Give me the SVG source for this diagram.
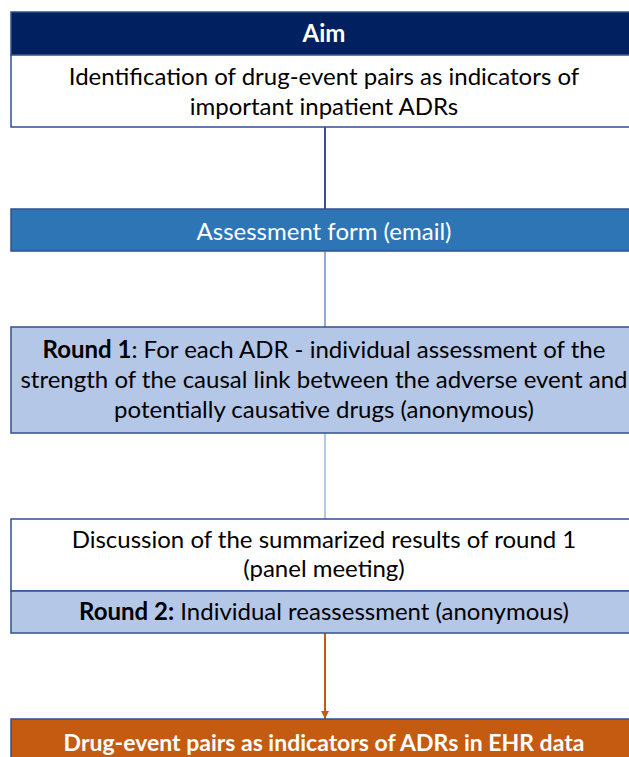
<svg xmlns="http://www.w3.org/2000/svg" width="629" height="757" viewBox="0 0 629 757">
<style>
  .t { font-family: Lato, "Liberation Sans", sans-serif; font-size: 24px; fill: #000; text-anchor: middle; }
  .w { fill: #fff; }
  .b { font-weight: bold; }
  .box { stroke: #2F528F; stroke-width: 1.5; }
</style>
<defs>
  <marker id="arrowO" viewBox="0 0 10 10" refX="10" refY="5" markerWidth="8" markerHeight="8" markerUnits="userSpaceOnUse" orient="auto">
    <path d="M0,0 L10,5 L0,10 z" fill="#C55A11"/>
  </marker>
</defs>
<g id="connectors">
  <line x1="325" y1="127" x2="325" y2="209" stroke="#3A4F8C" stroke-width="2"/>
  <line x1="325" y1="251" x2="325" y2="327" stroke="#8FAADC" stroke-width="2"/>
  <line x1="325" y1="433" x2="325" y2="519" stroke="#B4C7E7" stroke-width="2"/>
  <line x1="325" y1="633" x2="325" y2="719" stroke="#C55A11" stroke-width="2" marker-end="url(#arrowO)"/>
</g>
<g id="aim">
  <rect class="box" x="11" y="12" width="630" height="43" fill="#002060"/>
  <text class="t w b" x="324" y="42">Aim</text>
  <rect class="box" x="11" y="55" width="630" height="72" fill="#FFFFFF"/>
  <text class="t" x="324" y="85">Identification of drug-event pairs as indicators of</text>
  <text class="t" x="324" y="115">important inpatient ADRs</text>
</g>
<g id="assessment">
  <rect class="box" x="11" y="209" width="630" height="42" fill="#2E75B6"/>
  <text class="t w" x="324" y="240">Assessment form (email)</text>
</g>
<g id="round1">
  <rect class="box" x="11" y="327" width="630" height="106" fill="#B4C7E7"/>
  <text class="t" x="324" y="358"><tspan class="b">Round 1</tspan>: For each ADR - individual assessment of the</text>
  <text class="t" x="324" y="388">strength of the causal link between the adverse event and</text>
  <text class="t" x="324" y="418">potentially causative drugs (anonymous)</text>
</g>
<g id="discussion">
  <rect class="box" x="11" y="519" width="630" height="72" fill="#FFFFFF"/>
  <text class="t" x="324" y="548">Discussion of the summarized results of round 1</text>
  <text class="t" x="324" y="577">(panel meeting)</text>
</g>
<g id="round2">
  <rect class="box" x="11" y="591" width="630" height="42" fill="#B4C7E7"/>
  <text class="t" x="324" y="620"><tspan class="b">Round 2:</tspan> Individual reassessment (anonymous)</text>
</g>
<g id="result">
  <rect class="box" x="11" y="719" width="630" height="50" fill="#C55A11" stroke="#C55A11"/>
  <text class="t w b" x="324" y="751" style="font-size:23px">Drug-event pairs as indicators of ADRs in EHR data</text>
</g>
</svg>
